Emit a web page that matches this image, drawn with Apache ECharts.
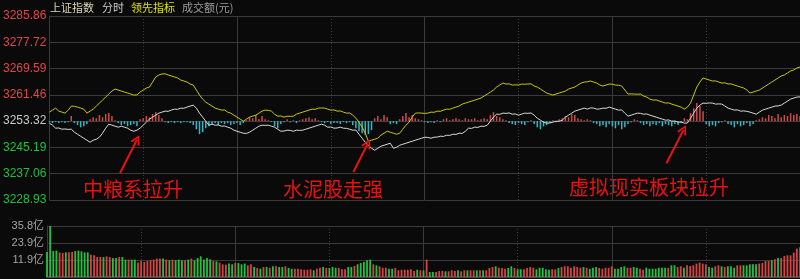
<!DOCTYPE html>
<html><head><meta charset="utf-8">
<script src="https://cdn.jsdelivr.net/npm/echarts@6/dist/echarts.min.js"></script>
<style>html,body{margin:0;padding:0;background:#0a0a0a;}#c{width:800px;height:279px;}</style>
</head><body><div id="c"></div>
<script>
// ---- tick labels ----
const priceTicks = [3228.93, 3237.06, 3245.19, 3253.32, 3261.46, 3269.59, 3277.72, 3285.86];
const prevClose = 3253.32;
const volumeTicks = [11.93, 23.87, 35.8];
const headerTexts = ['上证指数', '分时', '领先指标', '成交额(元)'];

// ---- minute data (241 points, 9:30-11:30 / 13:00-15:00) ----
const price = [
3252.70,3252.08,3251.15,3251.21,3250.84,3250.90,3250.78,3250.84,3249.90,3249.28,
3248.66,3248.04,3247.42,3246.80,3247.42,3247.73,3248.35,3249.59,3251.15,3252.39,
3252.08,3251.77,3251.46,3251.77,3251.46,3251.15,3250.53,3250.21,3250.53,3251.15,
3252.08,3253.01,3253.94,3254.56,3255.18,3255.80,3256.12,3256.43,3256.37,3256.74,
3257.05,3256.98,3257.36,3257.30,3257.67,3257.98,3258.29,3257.36,3255.80,3254.56,
3253.32,3252.08,3252.39,3252.08,3252.14,3251.77,3251.83,3251.46,3251.15,3250.53,
3250.21,3249.90,3249.59,3249.53,3249.90,3250.53,3251.15,3251.77,3252.08,3252.02,
3252.08,3251.77,3251.46,3250.84,3250.21,3250.27,3250.53,3250.47,3250.21,3250.53,
3250.47,3250.53,3250.84,3251.15,3251.46,3251.77,3252.08,3252.39,3252.08,3251.46,
3251.52,3251.15,3251.21,3251.46,3251.15,3251.09,3250.84,3250.53,3250.59,3249.28,
3248.04,3246.80,3245.87,3244.94,3244.32,3244.94,3245.56,3245.87,3246.18,3246.49,
3244.94,3245.25,3245.87,3246.18,3246.49,3246.80,3247.11,3247.42,3247.73,3248.04,
3248.35,3248.29,3248.04,3248.35,3248.41,3248.66,3248.60,3248.97,3248.91,3249.28,
3249.22,3249.59,3249.53,3250.21,3251.15,3251.09,3251.46,3251.40,3251.77,3251.71,
3252.08,3253.32,3254.56,3255.49,3255.43,3255.80,3255.74,3255.86,3255.49,3255.55,
3255.18,3255.49,3255.80,3255.74,3255.86,3255.18,3254.25,3253.63,3253.01,3252.70,
3252.76,3253.01,3253.32,3253.26,3253.63,3254.56,3255.18,3255.80,3256.43,3256.74,
3257.05,3257.36,3257.05,3257.42,3257.36,3257.05,3257.11,3257.36,3257.30,3257.67,
3257.36,3257.05,3256.74,3256.80,3255.80,3254.87,3255.18,3255.49,3255.80,3255.74,
3255.49,3255.55,3255.18,3254.87,3254.56,3254.25,3253.94,3253.63,3253.69,3253.32,
3253.38,3253.01,3253.07,3252.70,3252.76,3254.25,3255.80,3257.36,3258.29,3258.91,
3258.85,3258.97,3258.91,3258.60,3258.66,3258.60,3257.98,3257.36,3257.05,3256.74,
3256.80,3256.43,3256.49,3256.37,3256.12,3255.80,3255.49,3256.12,3256.74,3257.05,
3257.36,3257.67,3257.98,3258.04,3258.29,3258.91,3259.53,3260.15,3260.46,3260.77,
3260.83
];
const lead = [
3256.12,3256.74,3257.36,3256.43,3256.12,3255.80,3256.74,3257.98,3257.92,3257.67,
3257.36,3257.05,3255.80,3256.43,3257.05,3257.98,3258.91,3259.84,3260.77,3261.71,
3262.64,3263.26,3262.95,3262.64,3262.33,3262.02,3261.71,3261.40,3261.46,3262.33,
3262.95,3263.57,3263.88,3265.43,3266.99,3267.61,3267.92,3267.98,3267.61,3267.30,
3266.99,3266.68,3266.05,3265.74,3265.43,3264.81,3264.50,3262.95,3261.40,3260.15,
3259.22,3258.60,3257.98,3257.36,3257.05,3256.74,3256.80,3256.12,3255.80,3255.18,
3254.56,3253.94,3253.32,3253.94,3254.56,3254.87,3255.18,3255.80,3256.43,3256.74,
3256.68,3256.43,3255.49,3254.87,3254.93,3254.56,3254.87,3254.81,3254.87,3255.49,
3255.80,3256.12,3256.43,3256.74,3257.05,3256.99,3257.36,3257.42,3257.36,3257.05,
3256.74,3256.80,3256.43,3256.49,3256.12,3255.80,3255.86,3255.18,3254.25,3253.01,
3251.46,3249.59,3247.11,3247.42,3247.73,3248.04,3248.97,3249.59,3250.21,3249.90,
3249.59,3249.28,3249.59,3250.84,3252.08,3253.01,3254.56,3255.80,3255.86,3255.80,
3255.74,3255.80,3256.12,3256.06,3256.43,3256.37,3256.74,3257.05,3256.99,3257.36,
3257.67,3257.98,3258.60,3258.91,3259.22,3259.53,3259.84,3260.15,3260.46,3261.09,
3261.71,3262.33,3262.95,3263.88,3264.50,3265.12,3264.81,3264.87,3264.50,3264.56,
3264.50,3264.81,3264.75,3264.81,3264.87,3264.19,3263.88,3263.26,3262.64,3262.02,
3261.71,3261.40,3261.71,3262.02,3262.33,3262.64,3263.26,3263.57,3263.88,3264.50,
3265.12,3265.43,3265.49,3265.74,3265.43,3265.12,3264.50,3264.19,3264.50,3264.81,
3264.75,3264.50,3264.44,3264.19,3262.95,3261.71,3261.77,3261.71,3261.65,3261.71,
3261.09,3260.77,3260.15,3259.84,3259.90,3259.53,3259.22,3258.91,3258.97,3258.60,
3258.29,3257.98,3257.67,3257.05,3257.67,3258.91,3261.40,3263.88,3265.43,3266.68,
3266.37,3266.05,3265.74,3265.80,3265.43,3265.12,3265.18,3264.81,3264.87,3264.50,
3264.19,3263.88,3263.57,3262.95,3262.02,3262.33,3262.64,3262.95,3263.57,3264.19,
3264.81,3265.43,3266.05,3266.68,3267.30,3267.61,3268.23,3268.85,3269.16,3269.78,
3270.09
];
const leadBars = [
-0.3,-0.6,-0.3,-0.6,-0.3,-0.6,-0.3,1.6,-0.6,-1.2,
-1.9,-1.6,-0.9,0.6,1.2,0.9,1.9,1.2,2.2,2.5,
1.6,0.3,-0.6,-1.2,-0.9,-1.6,-1.2,-0.9,-1.6,0.6,
0.9,1.6,1.2,2.2,2.8,1.9,0.9,-0.3,-0.6,-0.3,
-0.6,-0.3,-0.6,-0.3,-0.3,-0.6,-1.2,-2.5,-4.0,-3.4,
-2.2,-1.6,-0.9,-0.6,-1.2,-0.6,-0.9,-0.6,-1.2,-0.9,
-0.6,-1.2,-0.6,0.3,1.2,0.9,1.9,0.6,1.6,0.6,
0.3,-0.3,-1.6,-2.2,-0.9,-0.3,0.6,-0.3,0.3,-0.6,
0.3,0.6,0.9,1.2,0.6,0.9,0.3,-0.3,-0.6,-0.3,
-0.9,-0.6,-0.6,-0.9,-0.3,-0.6,-0.3,-1.2,-2.2,-3.1,
-3.7,-4.3,-4.0,-2.8,0.9,1.6,0.6,1.9,1.2,-0.9,
-0.6,-0.9,0.6,1.6,2.5,1.2,1.9,0.9,0.6,0.3,
-0.3,-0.6,-0.3,-0.6,0.3,-0.3,0.6,0.9,0.3,0.6,
0.9,0.6,0.3,0.9,0.6,0.6,0.9,0.3,0.6,0.9,
0.6,1.9,2.8,1.6,1.2,0.6,0.3,-0.6,-0.9,-1.2,
-0.6,-0.9,-1.2,-0.3,0.3,-0.9,-1.9,-2.5,-1.6,-1.2,
-0.6,0.3,-0.3,0.6,0.9,1.6,1.2,2.2,1.9,0.9,
0.6,0.3,0.6,0.3,-0.6,-0.9,-1.6,-1.2,-1.9,-0.9,
-1.6,-2.2,-1.2,-2.5,-1.9,-0.9,-0.3,0.6,0.3,-0.6,
-1.2,-0.9,-1.6,-0.9,-1.2,-0.6,-1.6,-0.9,-1.2,-1.6,
-0.9,-1.2,-0.6,0.9,0.6,2.5,4.0,5.6,4.7,3.1,
-0.9,-1.6,-1.2,-1.6,-0.6,-0.3,0.3,-0.9,-1.2,-1.9,
-0.9,-1.6,-1.2,-0.6,-1.6,-0.9,0.3,0.6,1.2,0.9,
1.9,1.6,0.9,2.2,1.2,1.9,1.6,2.5,1.9,2.2,
1.6
];
// turnover, 亿元 per minute
const volume = [
17.5,35.8,18.2,18.5,17.3,16.8,17.3,17.3,17.5,18.2,
18.5,18.0,17.3,17.3,15.7,15.2,14.0,14.0,14.0,14.5,
14.0,13.3,13.3,14.0,14.0,12.2,12.2,12.2,12.2,10.1,
11.2,10.5,11.2,11.7,12.2,12.9,12.9,12.9,12.2,11.7,
12.2,11.7,12.2,11.7,11.7,12.2,
12.9,11.7,13.3,14.5,12.2,13.3,12.4,11.2,11.0,10.1,
8.9,8.7,9.4,8.9,9.8,9.8,8.9,9.4,8.2,8.9,
7.0,6.3,5.8,7.0,7.0,6.5,7.5,7.5,7.0,7.0,
7.5,6.3,5.8,5.8,5.8,5.4,5.1,5.1,5.4,4.7,
5.8,6.5,7.0,6.3,6.3,7.0,6.5,6.3,5.4,5.4,
7.0,7.0,7.7,8.9,9.8,10.5,11.7,12.2,8.9,8.2,
7.5,6.5,6.5,5.8,
5.8,6.3,4.7,5.1,5.1,5.1,5.4,4.2,5.1,4.7,
4.7,12.2,3.5,3.5,3.5,4.2,4.2,4.0,4.0,4.7,
4.2,4.7,4.0,4.7,4.7,4.7,4.7,4.7,4.7,4.7,
4.7,6.3,7.0,7.5,6.5,6.3,5.8,6.3,7.5,6.3,
5.4,5.4,5.4,6.3,7.0,6.5,5.4,6.5,6.5,5.4,
5.1,5.4,5.4,6.3,7.0,7.5,7.5,6.5,7.5,7.0,
6.5,7.0,6.5,5.8,
6.5,7.0,6.3,5.8,6.5,6.5,7.5,5.8,5.8,7.0,
7.5,6.5,6.5,7.0,6.5,5.8,5.1,6.5,5.8,5.8,
5.8,6.5,6.5,6.5,6.5,8.2,8.2,7.0,7.5,6.5,
8.2,7.7,8.2,9.4,10.1,9.4,8.9,7.0,6.5,7.5,
8.2,7.5,7.0,7.5,7.5,6.5,8.2,8.2,8.2,8.2,
8.9,8.9,8.9,9.4,9.8,11.2,11.2,11.7,12.4,13.3,
13.3,14.7,15.2,15.2,17.1,19.9,20.8
];
// R = up minute (red), G = down minute (green)
const volumeSide = (
  "GGGGRRGRRG" + "GGGGRRRRGR" + "RGGRGGRGGR" + "RRRRRRRGRG" + "RGGGRG" +
  "RGGGGGGRGR" + "RRGGRGGGRR" + "GRGRGRGRGG" + "RGGRRRRRRG" + "RRGRGGGRRR" + "GGRGGGGGRG" + "RRRG" +
  "GRRRRRRRGR" + "GRGGRRRGRR" + "RGRRGRRGRG" + "RRRGRRRGGR" + "GGRRRRGGGG" + "GRRGRRRRRR" + "RGRG" +
  "GGRRRRRGGG" + "GRRGGRRGGG" + "GGGGRGGRRG" + "RRRRRRRGGR" + "RGRGGGRRGG" + "GGGRRRRGRG" + "RRRRRRR"
).split('');

// annotations: arrow from (minute, index level) to (minute, index level)
const notes = [
  {text: '中粮系拉升', from: [22.6, 3237.28], to: [28.0, 3247.62]},
  {text: '水泥股走强', from: [97.2, 3237.59], to: [101.8, 3246.38]},
  {text: '虚拟现实板块拉升', from: [197.3, 3240.29], to: [202.8, 3250.71]}
];

const chart = echarts.init(document.getElementById('c'), null, {renderer: 'canvas'});
const GRID_LINE = '#3a3a3a';
function xAxisFor(grid, values, style, extra) {
  return Object.assign({
    type: 'value', gridIndex: grid, min: 0, max: 240,
    axisLine: {show: false}, axisLabel: {show: false},
    axisTick: {show: false, customValues: values},
    splitLine: {show: true, lineStyle: style}
  }, extra || {});
}
const arrowHead = 'path://M5,0 L10,9 L8.4,9.8 L5,3.2 L1.6,9.8 L0,9 Z';

chart.setOption({
  backgroundColor: '#0a0a0a',
  animation: false,
  grid: [
    {left: 47, right: 0, top: 16, bottom: 79},
    {left: 47, right: 0, top: 226, bottom: 2}
  ],
  xAxis: [
    xAxisFor(0, [60, 120, 180], {color: GRID_LINE, width: 1}),
    xAxisFor(0, [30, 90, 150, 210], {color: '#3a3a3a', width: 1, type: [1, 2]}),
    xAxisFor(1, [60, 120, 180], {color: GRID_LINE, width: 1},
      {axisLine: {show: true, lineStyle: {color: '#444', width: 2}}}),
    xAxisFor(1, [30, 90, 150, 210], {color: '#3a3a3a', width: 1, type: [1, 2]})
  ],
  yAxis: [
    {
      type: 'value', gridIndex: 0, min: priceTicks[0], max: priceTicks[priceTicks.length - 1],
      axisLine: {show: true, lineStyle: {color: GRID_LINE}},
      axisTick: {show: false, customValues: priceTicks},
      axisLabel: {
        customValues: priceTicks, margin: 3, fontSize: 12, fontFamily: 'Liberation Sans',
        formatter: v => v.toFixed(2),
        color: v => (v > prevClose + 0.005 ? '#e04646' : (v < prevClose - 0.005 ? '#1fc23c' : '#c8c8c8'))
      },
      splitLine: {show: true, lineStyle: {color: GRID_LINE, width: 1}}
    },
    {
      type: 'value', gridIndex: 0,
      min: priceTicks[0] - prevClose, max: priceTicks[priceTicks.length - 1] - prevClose,
      show: false, splitLine: {show: false}
    },
    {
      type: 'value', gridIndex: 1, min: 0, max: volumeTicks[volumeTicks.length - 1],
      axisLine: {show: true, lineStyle: {color: GRID_LINE}},
      axisTick: {show: false, customValues: volumeTicks},
      axisLabel: {
        customValues: volumeTicks, margin: 3, fontSize: 11, color: '#a4a4a4',
        fontFamily: 'Liberation Sans, Noto Sans CJK SC',
        formatter: v => v.toFixed(1) + '亿'
      },
      splitLine: {show: true, lineStyle: {color: GRID_LINE, width: 1}}
    }
  ],
  series: [
    {
      type: 'bar', xAxisIndex: 0, yAxisIndex: 1, barWidth: 1.5, z: 2,
      data: leadBars.map((v, i) => ({value: [i, v], itemStyle: {color: v >= 0 ? '#cf4b4b' : '#2fb9c6'}}))
    },
    {
      type: 'line', xAxisIndex: 0, yAxisIndex: 0, symbol: 'none', z: 3,
      lineStyle: {color: '#c9c900', width: 1},
      data: lead.map((v, i) => [i, v])
    },
    {
      type: 'line', xAxisIndex: 0, yAxisIndex: 0, symbol: 'none', z: 4,
      lineStyle: {color: '#d9d9d9', width: 1},
      data: price.map((v, i) => [i, v]),
      markLine: {
        silent: true, animation: false,
        symbol: ['none', arrowHead], symbolSize: [10, 10],
        lineStyle: {color: '#ee1111', width: 2, type: 'solid'},
        label: {show: false},
        emphasis: {disabled: true},
        data: notes.map(n => [{coord: n.from}, {coord: n.to}])
      }
    },
    {
      type: 'bar', xAxisIndex: 2, yAxisIndex: 2, barWidth: 1.8, z: 2,
      data: volume.map((v, i) => ({value: [i, v], itemStyle: {color: volumeSide[i] === 'R' ? '#d44444' : '#22c23e'}}))
    }
  ],
  graphic: [
    {type: 'text', left: 50, top: 2, style: {text: headerTexts[0], fill: '#d8d8b4', font: '11px "Noto Sans CJK SC"'}},
    {type: 'text', left: 102, top: 2, style: {text: headerTexts[1], fill: '#cccccc', font: '11px "Noto Sans CJK SC"'}},
    {type: 'text', left: 131, top: 2, style: {text: headerTexts[2], fill: '#e0e000', font: '11px "Noto Sans CJK SC"'}},
    {type: 'text', left: 182, top: 2, style: {text: headerTexts[3], fill: '#9c9c9c', font: '11px "Noto Sans CJK SC"'}},
    {type: 'text', left: 83, top: 179, style: {text: notes[0].text, fill: '#e81212', font: '20px "Noto Sans CJK SC"'}},
    {type: 'text', left: 283, top: 179, style: {text: notes[1].text, fill: '#e81212', font: '20px "Noto Sans CJK SC"'}},
    {type: 'text', left: 569, top: 177, style: {text: notes[2].text, fill: '#e81212', font: '20px "Noto Sans CJK SC"'}}
  ]
});
</script>
</body></html>
